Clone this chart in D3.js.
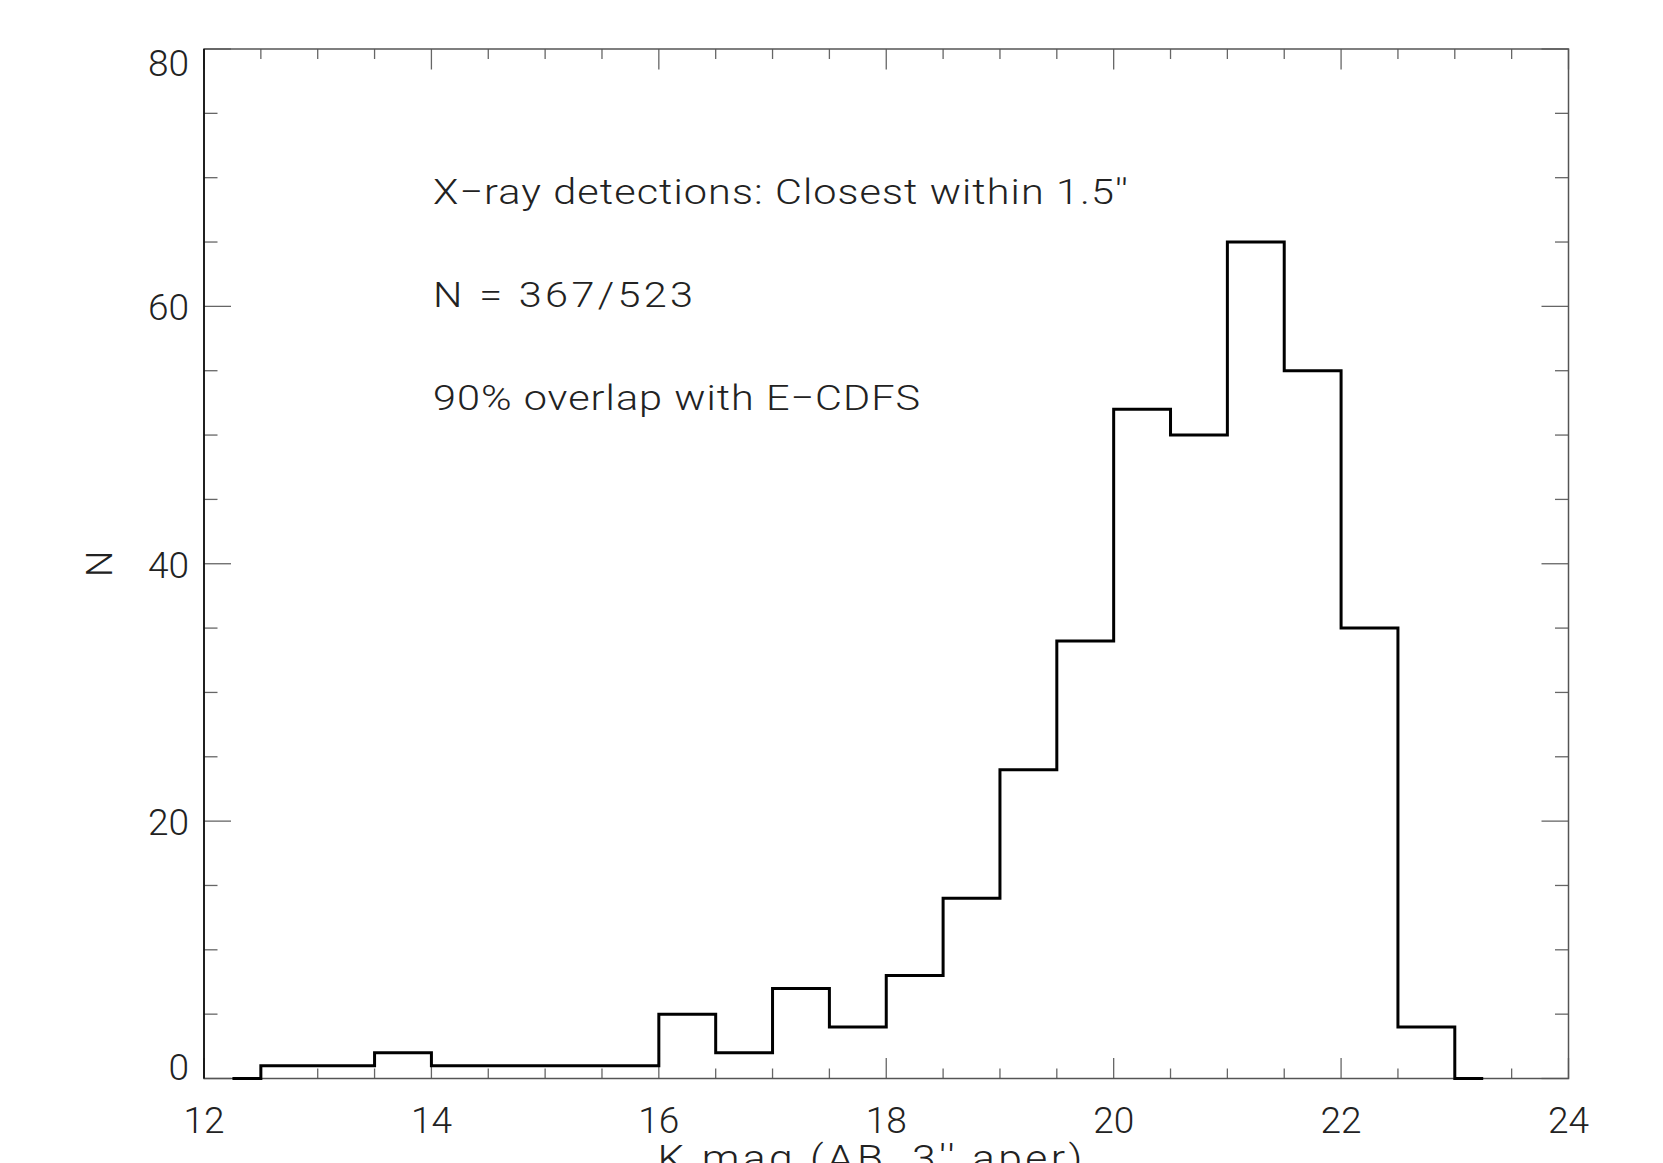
<!DOCTYPE html>
<meta charset="utf-8">
<head>
    <title>K mag histogram</title>
    <script src="https://d3js.org/d3.v7.min.js"></script>
    <style>
        body { margin: 0; background: #fff; }
        text { font-family: Roboto, "Liberation Sans", sans-serif; font-weight: 300; fill: #222; }
    </style>
</head>
<body>
<script>
    // histogram bins (centres, 0.5 mag wide) and counts
    var binCenters = [12.25, 12.75, 13.25, 13.75, 14.25, 14.75, 15.25, 15.75, 16.25, 16.75, 17.25, 17.75,
                      18.25, 18.75, 19.25, 19.75, 20.25, 20.75, 21.25, 21.75, 22.25, 22.75, 23.25];
    var counts = [0, 1, 1, 2, 1, 1, 1, 1, 5, 2, 7, 4, 8, 14, 24, 34, 52, 50, 65, 55, 35, 4, 0];

    var xMajor = [12, 14, 16, 18, 20, 22, 24];
    var yMajor = [0, 20, 40, 60, 80];

    var notes = ["X\u2212ray detections: Closest within 1.5''", "N = 367/523", "90% overlap with E\u2212CDFS"];
    var noteWidths = [695, 260, 487];

    var width = 1663, height = 1163;
    var plotL = 204, plotR = 1568.5, plotT = 49, plotB = 1078.5;
    var stretch = 1.15; // the original vector font is wider than Roboto

    var svg = d3.select("body").append("svg")
        .attr("width", width)
        .attr("height", height);

    var x = d3.scaleLinear().domain([12, 24]).range([plotL, plotR]);
    var y = d3.scaleLinear().domain([0, 80]).range([plotB, plotT]);

    var xMinor = d3.range(12, 24.01, 0.5).filter(function (d) { return xMajor.indexOf(d) < 0; });
    var yMinor = d3.range(0, 80.01, 5).filter(function (d) { return yMajor.indexOf(d) < 0; });

    // tick marks on all four sides, pointing inward
    var ticks = svg.append("g").attr("stroke", "#666").attr("stroke-width", 1.3);

    function hTicks(vals, len) {
        vals.forEach(function (v) {
            ticks.append("line").attr("x1", x(v)).attr("x2", x(v)).attr("y1", plotB).attr("y2", plotB - len);
            ticks.append("line").attr("x1", x(v)).attr("x2", x(v)).attr("y1", plotT).attr("y2", plotT + len);
        });
    }
    function vTicks(vals, len) {
        vals.forEach(function (v) {
            ticks.append("line").attr("y1", y(v)).attr("y2", y(v)).attr("x1", plotL).attr("x2", plotL + len);
            ticks.append("line").attr("y1", y(v)).attr("y2", y(v)).attr("x1", plotR).attr("x2", plotR - len);
        });
    }
    hTicks(xMajor, 20.5);
    hTicks(xMinor, 10);
    vTicks(yMajor, 27);
    vTicks(yMinor, 13.5);

    // frame
    svg.append("rect")
        .attr("x", plotL).attr("y", plotT)
        .attr("width", plotR - plotL).attr("height", plotB - plotT)
        .attr("fill", "none")
        .attr("stroke", "#555")
        .attr("stroke-width", 1.5);
    svg.append("line")
        .attr("x1", plotL).attr("x2", plotL).attr("y1", plotT).attr("y2", plotB)
        .attr("stroke", "#000").attr("stroke-width", 1.5);

    // tick labels
    svg.append("g").selectAll("text")
        .data(xMajor).enter().append("text")
        .attr("x", function (d) { return x(d); })
        .attr("y", 1133)
        .attr("text-anchor", "middle")
        .style("font-size", "37px")
        .text(function (d) { return d; });

    svg.append("g").selectAll("text")
        .data(yMajor).enter().append("text")
        .attr("x", plotL - 15)
        .attr("y", function (d) {
            // end labels are pulled inside the frame, like IDL does
            if (d === 0) return y(d) + 1;
            if (d === 80) return y(d) + 27;
            return y(d) + 14;
        })
        .attr("text-anchor", "end")
        .style("font-size", "37px")
        .text(function (d) { return d; });

    // axis titles
    svg.append("text")
        .attr("transform", "translate(112," + ((plotT + plotB) / 2) + ") rotate(-90)")
        .attr("text-anchor", "middle")
        .style("font-size", "37px")
        .text("N");

    svg.append("g")
        .attr("transform", "translate(870,1171) scale(" + stretch + ",1)")
        .append("text")
        .attr("x", 0)
        .attr("y", 0)
        .attr("text-anchor", "middle")
        .attr("textLength", 425 / stretch)
        .attr("lengthAdjust", "spacing")
        .style("font-size", "37px")
        .text("K mag (AB, 3'' aper)");

    // annotations
    svg.append("g")
        .attr("transform", "translate(433,0) scale(" + stretch + ",1)")
        .selectAll("text")
        .data(notes).enter().append("text")
        .attr("x", 0)
        .attr("y", function (d, i) { return 204 + i * 103; })
        .attr("textLength", function (d, i) { return noteWidths[i] / stretch; })
        .attr("lengthAdjust", "spacing")
        .style("font-size", "36px")
        .text(function (d) { return d; });

    // histogram, drawn as a step line between bin centres (psym=10 style)
    var line = d3.line()
        .x(function (d, i) { return x(binCenters[i]); })
        .y(function (d) { return y(d); })
        .curve(d3.curveStep);

    svg.append("path")
        .datum(counts)
        .attr("d", line)
        .attr("fill", "none")
        .attr("stroke", "#000")
        .attr("stroke-width", 3);
</script>
</body>
</html>
